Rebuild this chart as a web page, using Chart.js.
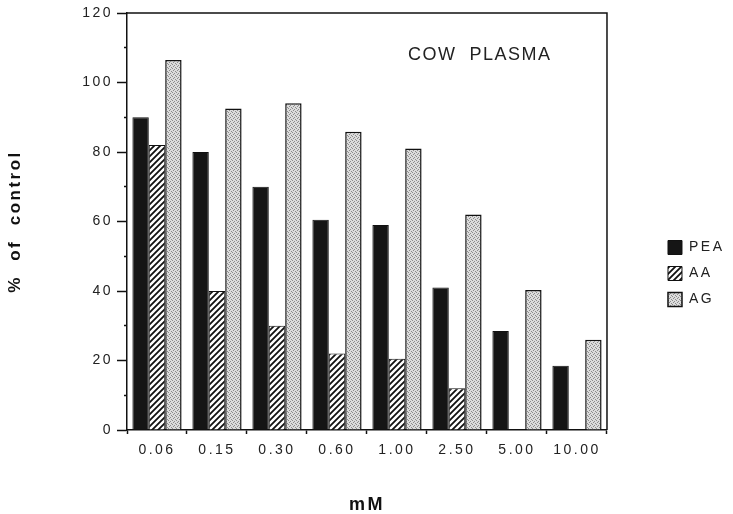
<!DOCTYPE html>
<html>
<head>
<meta charset="utf-8">
<script src="https://cdn.jsdelivr.net/npm/chart.js@4"></script>
<style>
  html, body { margin: 0; padding: 0; background: #fff; }
  #wrap { width: 733px; height: 514px; }
</style>
</head>
<body>
<div id="wrap"><canvas id="plasmaChart" width="733" height="514"></canvas></div>
<script>
// Cow plasma, % of control at each concentration (mM)
const doses = ['0.06', '0.15', '0.30', '0.60', '1.00', '2.50', '5.00', '10.00'];
const peaValues = [90, 80, 70, 60.5, 59, 41, 28.5, 18.5];
const aaValues = [82, 40, 30, 22, 20.5, 12, null, null];
const agValues = [106.5, 92.5, 94, 85.8, 81, 62, 40.3, 26];
const seriesNames = ['PEA', 'AA', 'AG'];
const yTicks = [0, 20, 40, 60, 80, 100, 120];

const FONT = '"Liberation Sans", Arial, Helvetica, sans-serif';

// fill patterns for the old-style bars
function makeTile(size, paint) {
  const c = document.createElement('canvas');
  c.width = size; c.height = size;
  const g = c.getContext('2d');
  paint(g, size);
  return g.createPattern(c, 'repeat');
}
const hatch = makeTile(6, (g, s) => {
  g.fillStyle = '#fff';
  g.fillRect(0, 0, s, s);
  g.strokeStyle = '#111';
  g.lineWidth = 1.8;
  g.beginPath();
  g.moveTo(-1, s + 1); g.lineTo(s + 1, -1);
  g.moveTo(-1, 1); g.lineTo(1, -1);
  g.moveTo(s - 1, s + 1); g.lineTo(s + 1, s - 1);
  g.stroke();
});
const stipple = makeTile(4, (g, s) => {
  g.fillStyle = '#dcdcdc';
  g.fillRect(0, 0, s, s);
  g.fillStyle = '#8c8c8c';
  [[0, 0], [2, 1], [1, 2], [3, 3]].forEach(([x, y]) => g.fillRect(x, y, 1, 1));
});

// top and right edges of the plot frame
const frameBox = {
  id: 'frameBox',
  beforeDraw(chart) {
    chart.ctx.letterSpacing = '2.5px';
  },
  afterLayout(chart) {
    const lg = chart.legend;
    const shiftX = chart.chartArea.right + 49 - lg.left;
    lg.left += shiftX; lg.right += shiftX;
    lg.top += 10; lg.bottom += 10;
  },
  afterDatasetsDraw(chart) {
    const { ctx, chartArea: a } = chart;
    ctx.save();
    ctx.strokeStyle = '#111';
    ctx.lineWidth = 1.5;
    ctx.beginPath();
    ctx.moveTo(a.left, a.top);
    ctx.lineTo(a.right, a.top);
    ctx.lineTo(a.right, a.bottom);
    ctx.stroke();
    ctx.font = '18px ' + FONT;
    ctx.letterSpacing = '1.5px';
    ctx.fillStyle = '#222';
    ctx.textAlign = 'center';
    ctx.textBaseline = 'middle';
    ctx.fillText('COW  PLASMA', a.left + a.width * 0.735, a.top + 42);
    ctx.restore();
  }
};

const ctx = document.getElementById('plasmaChart').getContext('2d');
new Chart(ctx, {
  type: 'bar',
  data: {
    labels: doses,
    datasets: [
      { label: seriesNames[0], data: peaValues, backgroundColor: '#151515', borderColor: '#111', borderWidth: 1 },
      { label: seriesNames[1], data: aaValues, backgroundColor: hatch, borderColor: '#111', borderWidth: 1 },
      { label: seriesNames[2], data: agValues, backgroundColor: stipple, borderColor: '#111', borderWidth: 1.5 }
    ]
  },
  options: {
    responsive: false,
    animation: false,
    events: [],
    datasets: { bar: { categoryPercentage: 0.82, barPercentage: 1.0 } },
    layout: { padding: { top: 13, left: 0, right: 55, bottom: 0 } },
    plugins: {
      tooltip: { enabled: false },
      legend: {
        position: 'right',
        labels: {
          boxWidth: 14,
          boxHeight: 14,
          padding: 12,
          color: '#222',
          font: { family: FONT, size: 14 }
        }
      }
    },
    scales: {
      x: {
        afterFit(scale) { scale.height = 84; },
        grid: { offset: true, drawOnChartArea: false, tickLength: 4, color: '#111', tickWidth: 1.5 },
        border: { display: true, color: '#111', width: 1.5 },
        ticks: { color: '#222', padding: 8, autoSkip: false, maxRotation: 0, font: { family: FONT, size: 14 } },
        title: {
          display: true,
          text: 'mM',
          color: '#111',
          padding: { top: 0, bottom: 0 },
          font: { family: FONT, size: 18, weight: 'bold', lineHeight: 1 }
        }
      },
      y: {
        min: 0,
        max: 120,
        afterFit(scale) { scale.width = 127; },
        afterBuildTicks(scale) {
          const t = [];
          for (let v = 0; v <= 120; v += 10) t.push({ value: v });
          scale.ticks = t;
        },
        grid: {
          drawOnChartArea: false,
          tickLength: 10,
          color: '#111',
          tickWidth: 1.5,
          tickBorderDash: (c) => (c.tick && yTicks.includes(c.tick.value)) ? [] : [0, 7, 3, 10]
        },
        border: { display: true, color: '#111', width: 1.5 },
        ticks: {
          color: '#222',
          padding: 4,
          font: { family: FONT, size: 14 },
          callback: (v) => yTicks.includes(v) ? String(v) : ''
        },
        title: {
          display: true,
          text: '%  of  control',
          color: '#111',
          padding: { top: 5, bottom: 0 },
          font: { family: FONT, size: 17, weight: 'bold' }
        }
      }
    }
  },
  plugins: [frameBox]
});
</script>
</body>
</html>
